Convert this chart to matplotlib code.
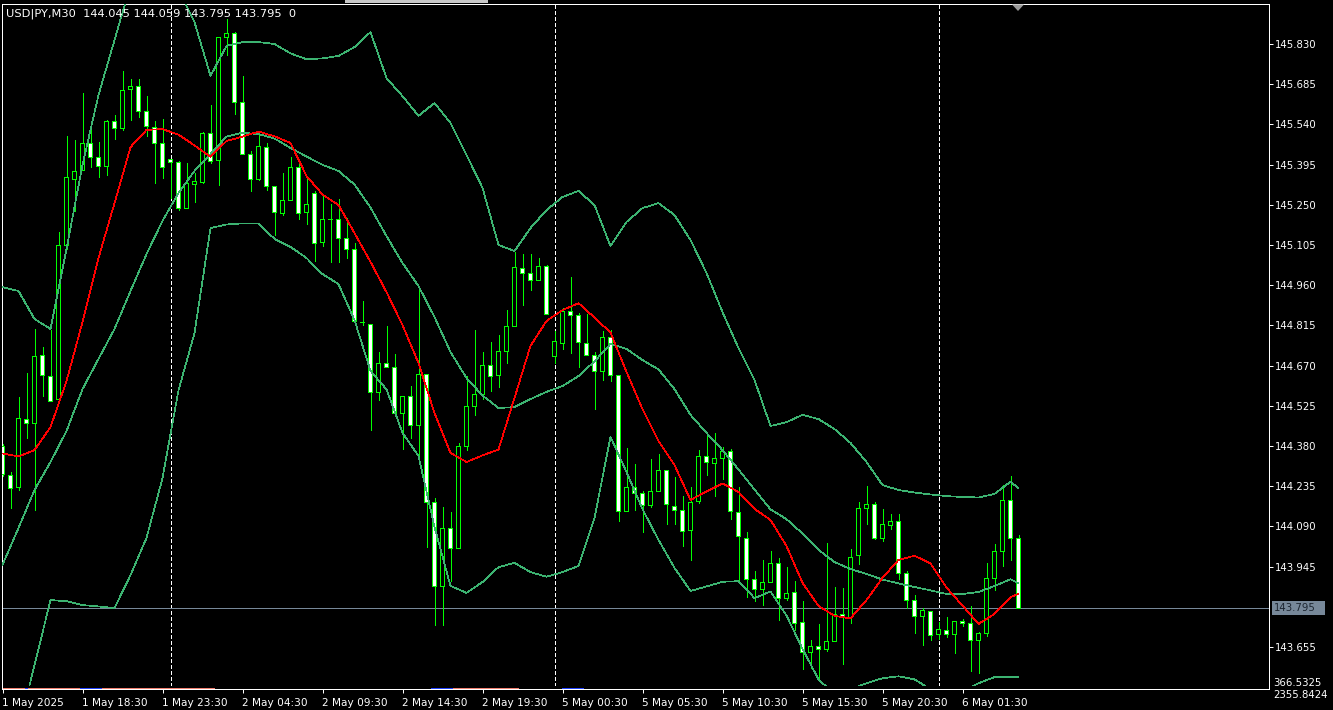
import matplotlib
matplotlib.use("Agg")
import matplotlib.pyplot as plt
from matplotlib.patches import Rectangle, Polygon

# ---------------- data (USDJPY M30) ----------------
opens = [144.377, 144.274, 144.229, 144.476, 144.462, 144.707, 144.631, 144.548, 145.104, 145.342,
         145.374, 145.472, 145.421, 145.387, 145.551, 145.524, 145.667, 145.677, 145.587, 145.530,
         145.472, 145.414, 145.403, 145.237, 145.324, 145.330, 145.508, 145.408, 145.854, 145.868,
         145.620, 145.432, 145.341, 145.457, 145.316, 145.218, 145.266, 145.386, 145.222, 145.289,
         145.114, 145.198, 145.198, 145.127, 145.090, 144.827, 144.819, 144.574, 144.679, 144.663,
         144.498, 144.559, 144.455, 144.639, 144.177, 143.872, 144.083, 144.011, 144.379, 144.523,
         144.566, 144.671, 144.635, 144.721, 144.812, 145.021, 145.003, 144.978, 145.028, 144.703,
         144.750, 144.866, 144.851, 144.750, 144.707, 144.649, 144.772, 144.635, 144.144, 144.231,
         144.209, 144.166, 144.216, 144.292, 144.162, 144.148, 144.076, 144.181, 144.343, 144.318,
         144.336, 144.361, 144.141, 144.047, 143.899, 143.863, 143.888, 143.957, 143.830, 143.852,
         143.744, 143.636, 143.657, 143.647, 143.675, 143.773, 143.762, 143.986, 144.155, 144.170,
         144.047, 144.094, 144.108, 143.921, 143.823, 143.765, 143.783, 143.701, 143.715, 143.701,
         143.747, 143.740, 143.679, 143.704, 143.903, 144.000, 144.184, 144.045]
highs = [144.387, 144.286, 144.555, 144.642, 144.801, 144.737, 144.798, 145.151, 145.497, 145.484,
         145.653, 145.533, 145.475, 145.556, 145.573, 145.733, 145.704, 145.704, 145.642, 145.552,
         145.558, 145.415, 145.408, 145.400, 145.364, 145.512, 145.610, 145.854, 145.920, 145.874,
         145.715, 145.444, 145.505, 145.472, 145.318, 145.365, 145.423, 145.409, 145.353, 145.300,
         145.284, 145.254, 145.271, 145.204, 145.111, 144.903, 144.819, 144.719, 144.814, 144.712,
         144.559, 144.596, 144.958, 144.639, 144.194, 144.160, 144.142, 144.390, 144.631, 144.797,
         144.718, 144.754, 144.779, 144.869, 145.078, 145.071, 145.071, 145.057, 145.032, 144.794,
         144.877, 144.988, 144.859, 144.855, 144.718, 144.794, 144.797, 144.635, 144.372, 144.314,
         144.216, 144.332, 144.350, 144.292, 144.267, 144.198, 144.231, 144.364, 144.418, 144.426,
         144.375, 144.368, 144.231, 144.068, 143.928, 143.967, 144.000, 143.975, 143.942, 143.892,
         143.820, 143.679, 143.737, 144.029, 143.870, 143.866, 144.007, 144.177, 144.234, 144.177,
         144.151, 144.133, 144.133, 143.928, 143.841, 143.794, 143.783, 143.744, 143.762, 143.747,
         143.755, 143.801, 143.708, 143.957, 144.025, 144.238, 144.272, 144.059]
lows = [144.272, 144.157, 144.221, 144.410, 144.149, 144.561, 144.541, 144.548, 145.090, 145.229,
        145.374, 145.387, 145.351, 145.358, 145.488, 145.521, 145.557, 145.566, 145.497, 145.330,
        145.348, 145.274, 145.230, 145.237, 145.261, 145.330, 145.401, 145.320, 145.790, 145.577,
        145.432, 145.298, 145.341, 145.305, 145.141, 145.213, 145.266, 145.199, 145.182, 145.047,
        145.102, 145.043, 145.043, 145.057, 144.823, 144.816, 144.439, 144.544, 144.663, 144.493,
        144.369, 144.408, 144.348, 144.017, 143.735, 143.735, 143.892, 144.011, 144.364, 144.491,
        144.548, 144.579, 144.592, 144.678, 144.812, 144.887, 144.943, 144.978, 144.855, 144.678,
        144.729, 144.714, 144.664, 144.707, 144.512, 144.617, 144.613, 144.108, 144.144, 144.148,
        144.068, 144.159, 144.216, 144.097, 144.097, 144.018, 143.967, 144.174, 144.274, 144.198,
        144.260, 144.115, 143.895, 143.834, 143.820, 143.805, 143.888, 143.751, 143.823, 143.715,
        143.574, 143.578, 143.542, 143.639, 143.675, 143.592, 143.740, 143.953, 144.097, 144.043,
        144.036, 144.079, 143.899, 143.794, 143.704, 143.661, 143.679, 143.682, 143.690, 143.632,
        143.729, 143.567, 143.560, 143.693, 143.859, 143.946, 143.967, 143.795]
closes = [144.278, 144.227, 144.480, 144.462, 144.703, 144.635, 144.541, 145.104, 145.349, 145.371,
          145.472, 145.421, 145.387, 145.552, 145.526, 145.663, 145.677, 145.587, 145.533, 145.472,
          145.385, 145.404, 145.237, 145.326, 145.335, 145.508, 145.407, 145.854, 145.869, 145.620,
          145.432, 145.341, 145.461, 145.317, 145.222, 145.266, 145.386, 145.218, 145.251, 145.111,
          145.198, 145.198, 145.127, 145.090, 144.830, 144.827, 144.571, 144.679, 144.663, 144.498,
          144.559, 144.455, 144.639, 144.177, 143.872, 144.083, 144.011, 144.379, 144.523, 144.566,
          144.671, 144.631, 144.721, 144.812, 145.024, 145.003, 144.978, 145.028, 144.855, 144.758,
          144.866, 144.851, 144.754, 144.707, 144.649, 144.772, 144.635, 144.144, 144.231, 144.209,
          144.166, 144.216, 144.292, 144.170, 144.148, 144.072, 144.177, 144.343, 144.321, 144.336,
          144.361, 144.144, 144.054, 143.899, 143.863, 143.888, 143.957, 143.830, 143.848, 143.740,
          143.636, 143.657, 143.647, 143.675, 143.773, 143.762, 143.978, 144.155, 144.170, 144.047,
          144.097, 144.108, 143.921, 143.823, 143.765, 143.787, 143.697, 143.719, 143.701, 143.747,
          143.740, 143.679, 143.704, 143.903, 144.000, 144.184, 144.045, 143.795]

# indicator samples (bar index -> price)
ind_bars = list(range(0, 127, 2)) + [127]
ma_red = [144.353, 144.342, 144.365, 144.448, 144.614, 144.827, 145.058, 145.256, 145.458, 145.520,
          145.523, 145.503, 145.464, 145.423, 145.480, 145.496, 145.514, 145.497, 145.473, 145.354,
          145.287, 145.249, 145.148, 145.044, 144.935, 144.816, 144.679, 144.499, 144.355, 144.322,
          144.346, 144.367, 144.553, 144.741, 144.831, 144.870, 144.895, 144.843, 144.789, 144.647,
          144.513, 144.398, 144.311, 144.185, 144.216, 144.245, 144.214, 144.153, 144.113, 144.019,
          143.886, 143.803, 143.767, 143.758, 143.824, 143.904, 143.969, 143.984, 143.956, 143.869,
          143.804, 143.738, 143.774, 143.835, 143.846]
bb_mid = [143.951, 144.084, 144.221, 144.322, 144.434, 144.585, 144.694, 144.802, 144.939, 145.072,
          145.192, 145.293, 145.372, 145.433, 145.496, 145.510, 145.505, 145.489, 145.455, 145.424,
          145.394, 145.372, 145.323, 145.240, 145.137, 145.040, 144.957, 144.845, 144.719, 144.625,
          144.562, 144.517, 144.520, 144.549, 144.575, 144.596, 144.632, 144.685, 144.748, 144.730,
          144.690, 144.656, 144.585, 144.492, 144.427, 144.365, 144.295, 144.223, 144.151, 144.116,
          144.064, 144.005, 143.961, 143.936, 143.918, 143.898, 143.884, 143.871, 143.859, 143.846,
          143.846, 143.853, 143.875, 143.899, 143.885]
bb_up = [144.953, 144.939, 144.838, 144.802, 145.090, 145.394, 145.646, 145.844, 146.043, 146.151,
         146.151, 146.025, 145.909, 145.715, 145.823, 145.837, 145.837, 145.830, 145.796, 145.775,
         145.778, 145.787, 145.819, 145.873, 145.707, 145.642, 145.571, 145.617, 145.545, 145.430,
         145.311, 145.105, 145.083, 145.166, 145.231, 145.278, 145.300, 145.249, 145.101, 145.188,
         145.238, 145.256, 145.213, 145.123, 145.004, 144.863, 144.733, 144.618, 144.452, 144.466,
         144.492, 144.477, 144.441, 144.391, 144.322, 144.239, 144.221, 144.212, 144.205, 144.199,
         144.196, 144.194, 144.207, 144.251, 144.227]
bb_low = [143.211, 143.355, 143.589, 143.824, 143.820, 143.806, 143.801, 143.795, 143.914, 144.048,
          144.264, 144.581, 144.787, 145.166, 145.179, 145.183, 145.182, 145.127, 145.098, 145.058,
          145.000, 144.964, 144.834, 144.651, 144.584, 144.427, 144.344, 144.088, 143.875, 143.850,
          143.889, 143.943, 143.958, 143.925, 143.908, 143.925, 143.947, 144.120, 144.413, 144.286,
          144.152, 144.041, 143.940, 143.857, 143.873, 143.890, 143.892, 143.831, 143.855, 143.768,
          143.648, 143.538, 143.484, 143.502, 143.524, 143.542, 143.549, 143.538, 143.502, 143.484,
          143.495, 143.524, 143.546, 143.547, 143.547]

price_ticks = [145.830, 145.685, 145.540, 145.395, 145.250, 145.105, 144.960, 144.815,
               144.670, 144.525, 144.380, 144.235, 144.090, 143.945, 143.655]
x_tick_bars = [0, 10, 20, 30, 40, 50, 60, 70, 80, 90, 100, 110, 120]
x_tick_labels = ["1 May 2025", "1 May 18:30", "1 May 23:30", "2 May 04:30", "2 May 09:30",
                 "2 May 14:30", "2 May 19:30", "5 May 00:30", "5 May 05:30", "5 May 10:30",
                 "5 May 15:30", "5 May 20:30", "6 May 01:30"]
separator_bars = [21, 69, 117]
last_price = 143.795
header = "USD|PY,M30  144.045 144.059 143.795 143.795  0"
sub_labels = ["366.5325", "2355.8424"]
sub_seg_start = [0, 2.8, 3.2, 9.7, 12.4, 53.6, 56.3, 69.9]
sub_seg_end = [2.8, 3.2, 9.7, 12.4, 26.4, 56.3, 64.4, 72.6]
sub_seg_color = ['#F08070', '#2244FF', '#F08070', '#2244FF', '#F08070', '#2244FF', '#F08070', '#2244FF']

# ---------------- layout ----------------
W, H = 1333, 710
plt.rcParams['font.family'] = ['DejaVu Sans']
plt.rcParams['lines.scale_dashes'] = False
fig = plt.figure(figsize=(W / 100, H / 100), dpi=100, facecolor='black')

def fx(px):
    return px / W

def fy(py):
    return 1 - py / H

LEFT, RIGHT, TOP, BOTTOM = 2, 1269, 4, 686
ax = fig.add_axes([fx(LEFT), fy(BOTTOM), fx(RIGHT - LEFT), (BOTTOM - TOP) / H])
ax.set_facecolor('black')
px_per_bar = 8.0
x0 = (LEFT - 2.5) / px_per_bar
x1 = (RIGHT - 2.5) / px_per_bar
y0, y1 = 143.514, 145.9743
ax.set_xlim(x0, x1)
ax.set_ylim(y0, y1)
unit_px = (y1 - y0) / (BOTTOM - TOP)   # price per pixel

LIME = '#00FF00'
BAND = '#3CB371'
n = len(opens)
bars = list(range(n))
LW = 0.5

# separators
for b in separator_bars:
    ax.axvline(b, color='white', lw=LW, ls=(0, (2.2, 1.5)), zorder=1, antialiased=False)
# last price line
ax.axhline(last_price, color='#778899', lw=LW, zorder=1.5, antialiased=False)

# candles: wick, green outer body, inner fill
ax.vlines(bars, lows, highs, colors=LIME, lw=LW, zorder=2, antialiased=False)
body_lo = [min(o, c) for o, c in zip(opens, closes)]
body_h = [abs(c - o) for o, c in zip(opens, closes)]
ax.bar(bars, [h + unit_px for h in body_h], bottom=[b - 0.5 * unit_px for b in body_lo],
       width=5 / px_per_bar, color=LIME, linewidth=0, zorder=3, antialiased=False)
inner_idx = [i for i in bars if body_h[i] > 1.5 * unit_px]
ax.bar(inner_idx, [body_h[i] - unit_px for i in inner_idx],
       bottom=[body_lo[i] + 0.5 * unit_px for i in inner_idx], width=3 / px_per_bar,
       color=['black' if closes[i] > opens[i] else 'white' for i in inner_idx],
       linewidth=0, zorder=3.5, antialiased=False)

# indicators
ax.plot(ind_bars, bb_up, color=BAND, lw=LW, zorder=4, antialiased=False)
ax.plot(ind_bars, bb_mid, color=BAND, lw=LW, zorder=4, antialiased=False)
ax.plot(ind_bars, bb_low, color=BAND, lw=LW, zorder=4, antialiased=False)
ax.plot(ind_bars, ma_red, color='red', lw=LW, zorder=5, antialiased=False)

for s in ax.spines.values():
    s.set_color('white')
    s.set_linewidth(0.72)
ax.set_xticks([])
ax.yaxis.tick_right()
ax.set_yticks(price_ticks)
ax.set_yticklabels([f"{t:.3f}" for t in price_ticks])
ax.tick_params(axis='y', colors='white', length=3, width=0.72, pad=1, labelsize=7.3,
               labelcolor='white')

# sub window
SUB_TOP, SUB_BOT = 686, 689.3
ax2 = fig.add_axes([fx(LEFT), fy(SUB_BOT), fx(RIGHT - LEFT), (SUB_BOT - SUB_TOP) / H])
ax2.set_facecolor('black')
ax2.set_xlim(x0, x1)
ax2.set_ylim(0, 1)
for k, s in ax2.spines.items():
    s.set_color('white')
    s.set_linewidth(0.72)
ax2.spines['top'].set_visible(False)
ax2.hlines([0.25] * len(sub_seg_start), sub_seg_start, sub_seg_end, colors=sub_seg_color,
           lw=0.72, zorder=10, clip_on=False, antialiased=False)
ax2.set_yticks([])
ax2.set_xticks(x_tick_bars)
ax2.set_xticklabels(x_tick_labels)
for lbl in ax2.get_xticklabels():
    lbl.set_horizontalalignment('left')
ax2.tick_params(axis='x', colors='white', length=3, width=0.72, pad=3, labelsize=7.6,
                labelcolor='white')

# texts
fig.text(fx(6), fy(14), header, color='white', fontsize=8.2, ha='left', va='center')
fig.text(fx(1273), fy(682.5), sub_labels[0], color='white', fontsize=7.3, ha='left', va='center')
fig.text(fx(1273), fy(695), sub_labels[1], color='white', fontsize=7.3, ha='left', va='center')

# current price label
fig.add_artist(Rectangle((fx(1272), fy(614.5)), fx(53), 13.5 / H, transform=fig.transFigure,
                         facecolor='#778899', edgecolor='none'))
fig.text(fx(1274), fy(607.8), f"{last_price:.3f}", color='#1c2530', fontsize=7.3,
         ha='left', va='center')

# chart shift marker and top tab
fig.add_artist(Polygon([(fx(1012), fy(4.5)), (fx(1024), fy(4.5)), (fx(1018), fy(11))],
                       closed=True, transform=fig.transFigure, facecolor='#9a9a9a',
                       edgecolor='none'))
fig.add_artist(Rectangle((fx(345), fy(2.5)), fx(143), 2.5 / H, transform=fig.transFigure,
                         facecolor='#c8c8c8', edgecolor='none'))

fig.savefig('out.png', dpi=100, facecolor='black')
